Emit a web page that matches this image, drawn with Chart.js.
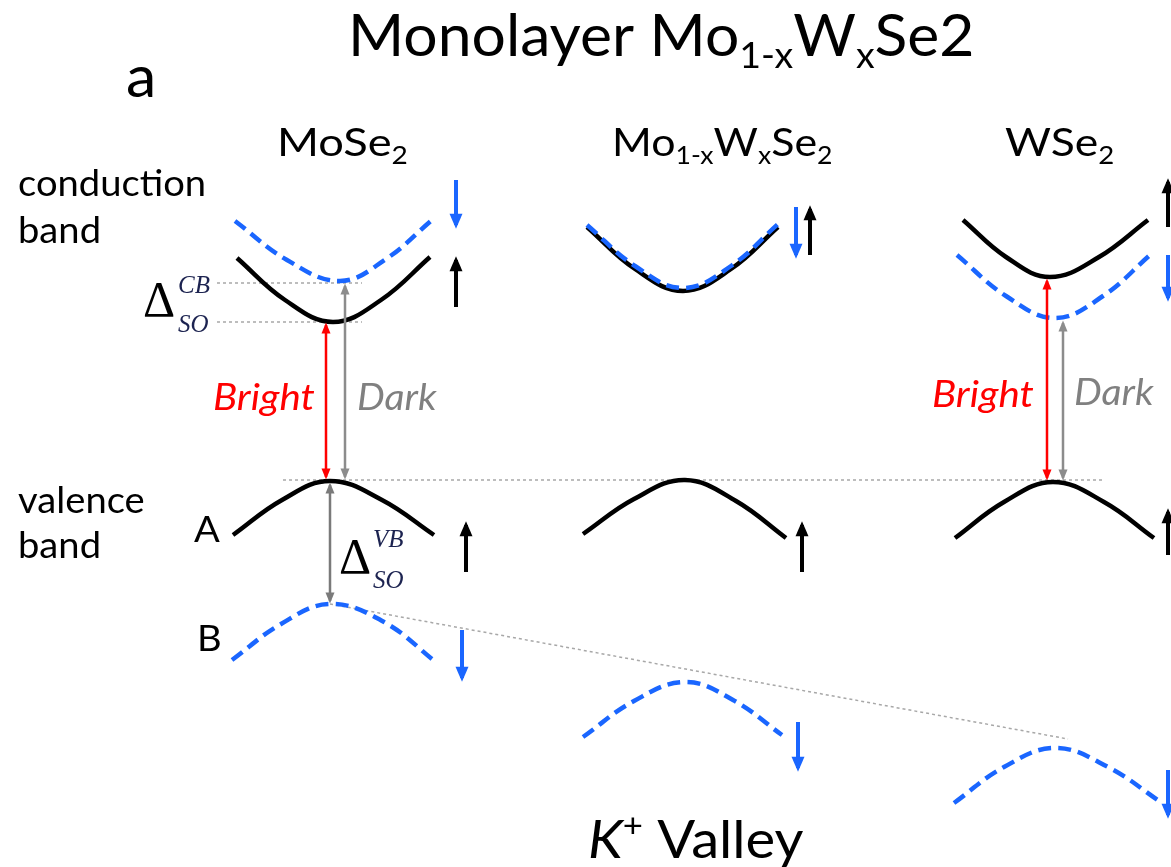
<!DOCTYPE html>
<html><head><meta charset="utf-8">
<script src="https://cdn.jsdelivr.net/npm/chart.js@4.4.1/dist/chart.umd.min.js"></script>
<style>html,body{margin:0;padding:0;background:#fff;overflow:hidden}canvas{display:block}</style>
</head><body>
<canvas id="c" width="1171" height="867"></canvas>
<script>
// ---- band curves: [x, y] positions read from the schematic ----
const mose2CBup  = [[237,258],[285,300],[333,322],[381,300],[430,257]];
const mose2CBdn  = [[235,221],[287,260],[340,281],[386,259],[432,220]];
const mose2VBA   = [[233,535],[282,500],[330,481],[382,500],[434,535]];
const mose2VBB   = [[232,660],[281,624],[330,604],[384,622],[437,663]];
const alloyCBup  = [[587,227],[635,269],[683,291],[731,269],[778,227]];
const alloyCBdn  = [[587,225],[635,266],[683,288],[731,266],[778,224]];
const alloyVBA   = [[583,534],[634,499],[685,480],[736,501],[786,538]];
const alloyVBB   = [[583,737],[634,701],[685,682],[733,700],[782,735]];
const wse2CBup   = [[963,220],[1006,257],[1050,277],[1099,257],[1148,220]];
const wse2CBdn   = [[957,255],[1006,296],[1055,318],[1103,296],[1150,255]];
const wse2VBA    = [[955,538],[1004,502],[1053,482],[1104,502],[1154,538]];
const wse2VBB    = [[954,803],[1004,767],[1055,748],[1108,767],[1162,803]];

// ---- spin arrows ----
const spinDown = [
  [[456,180],[456,225]], [[796,207],[796,255]], [[1168,255],[1168,298]],
  [[462,630],[462,678]], [[798,722],[798,768]], [[1168,770],[1168,815]]
];
const spinUp = [
  [[456,307],[456,260]], [[810,255],[810,209]], [[1168,227],[1168,182]],
  [[466,572],[466,525]], [[802,572],[802,525]], [[1168,555],[1168,512]]
];
// ---- transitions ----
const brightArrows = [ [[326,325],[326,477]], [[1047,281],[1047,478]] ];
const darkArrows   = [ [[345,286],[345,477]], [[1063,323],[1063,478]], [[330,485],[330,601]] ];
// ---- guide lines ----
const guides = [ [[217,283],[362,283]], [[217,322],[362,322]], [[283,480],[1102,480]], [[330,604],[1068,739]] ];

const BLUE = '#1a66ff', BLACK = '#000000', RED = '#ff0000', GREY = '#8c8c8c';
const pts = a => a.map(p => ({x:p[0], y:p[1]}));

const datasets = [];
function curve(a, color, dashed, order){
  datasets.push({data:pts(a), showLine:true, borderColor:color, borderWidth:4.5,
    borderDash: dashed ? [13,7] : [], tension:0.4, pointRadius:0, order:order});
}
function arrow(a, color, width, heads, hl, hw){
  datasets.push({data:pts(a), showLine:true, borderColor:color, borderWidth:width, pointRadius:0,
    heads:heads, headLen:hl, headWidth:hw, order:1});
}
guides.forEach(g => datasets.push({data:pts(g), showLine:true, borderColor:'#a8a8a8', borderWidth:1.5,
  borderDash:[3,3], pointRadius:0, order:10}));
curve(mose2CBup, BLACK, false, 5); curve(mose2CBdn, BLUE, true, 4);
curve(mose2VBA, BLACK, false, 5);  curve(mose2VBB, BLUE, true, 4);
curve(alloyCBup, BLACK, false, 5); curve(alloyCBdn, BLUE, true, 4);
curve(alloyVBA, BLACK, false, 5);  curve(alloyVBB, BLUE, true, 4);
curve(wse2CBup, BLACK, false, 5);  curve(wse2CBdn, BLUE, true, 4);
curve(wse2VBA, BLACK, false, 5);   curve(wse2VBB, BLUE, true, 4);
spinDown.forEach(a => arrow(a, BLUE, 4, 'end', 15, 13));
spinUp.forEach(a => arrow(a, BLACK, 4, 'end', 15, 13));
brightArrows.forEach(a => arrow(a, RED, 2.5, 'both', 11, 9));
darkArrows.forEach((a,i) => arrow(a, i===2 ? '#7a7a7a' : GREY, 2.5, 'both', 11, 9));

// ---- text labels ----
const SANS = 'Lato, "Open Sans", sans-serif', SERIF = '"Liberation Serif", "DejaVu Serif", serif';
const texts = [
  {x:348, y:56, size:58, sx:1.045, parts:[["Monolayer Mo"],["1-x","sub"],["W"],["x","sub"],["Se2"]]},
  {x:126, y:97, size:58, sx:1.05, parts:[["a"]]},
  {x:277, y:156, size:39, sx:1.16, parts:[["MoSe"],["2","sub"]]},
  {x:612, y:156, size:39, sx:1.1, parts:[["Mo"],["1-x","sub"],["W"],["x","sub"],["Se"],["2","sub"]]},
  {x:1005, y:156, size:39, sx:1.14, parts:[["WSe"],["2","sub"]]},
  {x:18, y:196, size:36, sx:1.06, parts:[["conduction"]]},
  {x:18, y:243, size:36, sx:1.06, parts:[["band"]]},
  {x:18, y:513, size:36, sx:1.06, parts:[["valence"]]},
  {x:18, y:558, size:36, sx:1.06, parts:[["band"]]},
  {x:194, y:542, size:36, sx:1.06, parts:[["A"]]},
  {x:197, y:651, size:36, sx:1.06, parts:[["B"]]},
  {x:213, y:410, size:36, sx:1.12, color:RED, italic:true, parts:[["Bright"]]},
  {x:357, y:410, size:36, sx:1.09, color:'#808080', italic:true, parts:[["Dark"]]},
  {x:932, y:407, size:36, sx:1.12, color:RED, italic:true, parts:[["Bright"]]},
  {x:1074, y:405, size:36, sx:1.09, color:'#808080', italic:true, parts:[["Dark"]]},
  {x:588, y:858, size:52, sx:1.08, parts:[["K","ital"],["+","sup"],[" Valley"]]},
  {x:143, y:316, size:50, font:SERIF, parts:[["\u0394"]]},
  {x:178, y:293, size:25, font:SERIF, italic:true, color:'#1c2350', parts:[["CB"]]},
  {x:178, y:332, size:25, font:SERIF, italic:true, color:'#1c2350', parts:[["SO"]]},
  {x:339, y:573, size:50, font:SERIF, parts:[["\u0394"]]},
  {x:373, y:547, size:25, font:SERIF, italic:true, color:'#1c2350', parts:[["VB"]]},
  {x:373, y:588, size:25, font:SERIF, italic:true, color:'#1c2350', parts:[["SO"]]}
];

const arrowHeads = {
  id:'arrowHeads',
  afterDatasetsDraw(chart){
    const ctx = chart.ctx;
    chart.data.datasets.forEach((ds,i) => {
      if(!ds.heads) return;
      const p = chart.getDatasetMeta(i).data;
      const head = (a,b) => {
        const dx=b.x-a.x, dy=b.y-a.y, len=Math.hypot(dx,dy), ux=dx/len, uy=dy/len;
        const L=ds.headLen, W=ds.headWidth/2, ext=ds.borderWidth/2*L/W*0.8;
        const tx=b.x+ux*ext, ty=b.y+uy*ext, bx=tx-ux*L, by=ty-uy*L;
        ctx.save(); ctx.beginPath(); ctx.moveTo(tx,ty);
        ctx.lineTo(bx-uy*W, by+ux*W); ctx.lineTo(bx+uy*W, by-ux*W); ctx.closePath();
        ctx.fillStyle=ds.borderColor; ctx.fill(); ctx.restore();
      };
      head(p[0],p[1]);
      if(ds.heads==='both') head(p[1],p[0]);
    });
  }
};
const textLayer = {
  id:'textLayer',
  afterDraw(chart){
    const ctx = chart.ctx, xs = chart.scales.x, ys = chart.scales.y;
    texts.forEach(t => {
      const x0 = xs.getPixelForValue(t.x), y = ys.getPixelForValue(t.y);
      ctx.save(); ctx.translate(x0, y); ctx.scale(t.sx || 1, 1);
      ctx.fillStyle = t.color || '#000'; ctx.textBaseline='alphabetic'; ctx.textAlign='left';
      let x = 0;
      t.parts.forEach(([s,kind]) => {
        let size=t.size, dy=0, it=t.italic;
        if(kind==='sub'){ size=t.size*0.62; dy=t.size*0.2; }
        if(kind==='sup'){ size=t.size*0.62; dy=-t.size*0.4; }
        if(kind==='ital') it=true;
        ctx.font = (it?'italic ':'') + size + 'px ' + (t.font||SANS);
        ctx.fillText(s, x, dy);
        x += ctx.measureText(s).width;
      });
      ctx.restore();
    });
  }
};

new Chart(document.getElementById('c'), {
  type:'scatter',
  data:{datasets},
  options:{
    responsive:false, animation:false, devicePixelRatio:1, events:[],
    layout:{padding:0},
    plugins:{legend:{display:false}, tooltip:{enabled:false}},
    scales:{
      x:{type:'linear', min:0, max:1171, display:false},
      y:{type:'linear', min:0, max:867, reverse:true, display:false}
    }
  },
  plugins:[arrowHeads, textLayer]
});
</script>
</body></html>
